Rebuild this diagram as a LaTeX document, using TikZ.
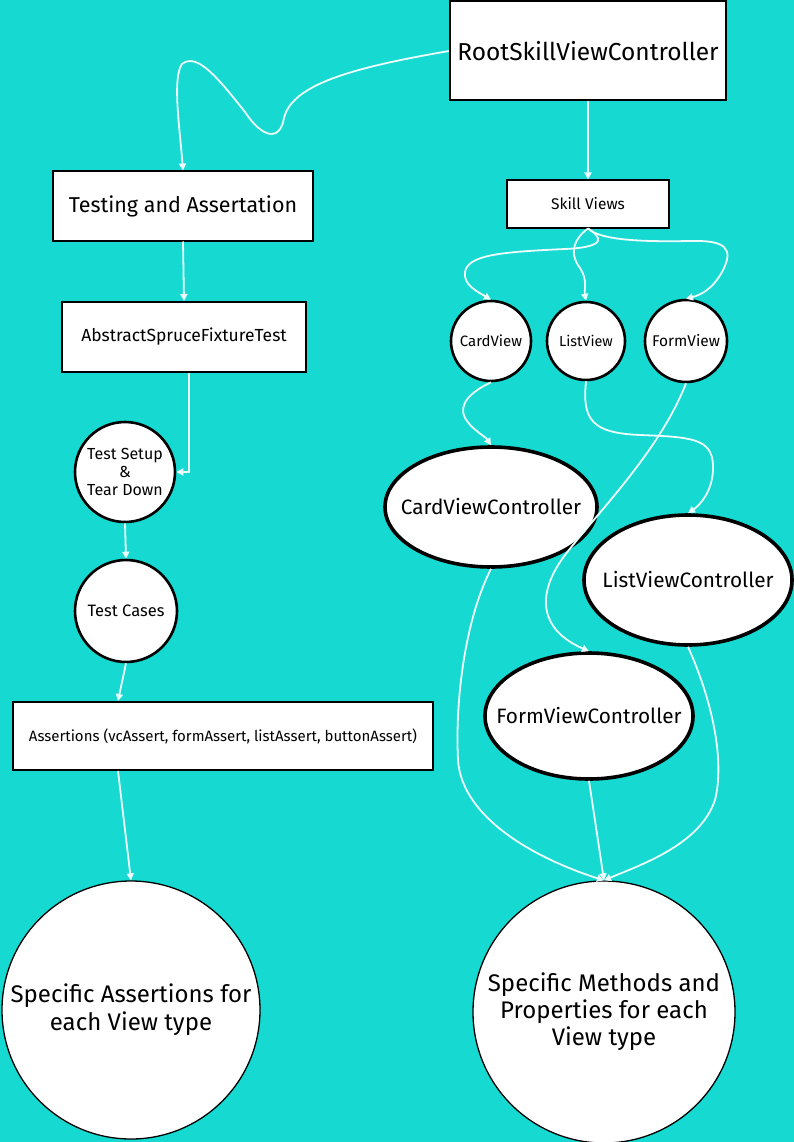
\documentclass[tikz,border=0pt]{standalone}
\usepackage{fontspec}
\setmainfont{Fira Sans}
\usetikzlibrary{shapes.geometric,arrows.meta}
\definecolor{bg}{RGB}{22,217,209}
\definecolor{wirec}{RGB}{236,255,255}
\begin{document}
\begin{tikzpicture}[x=1pt,y=-1pt,
  box/.style={draw=black,line width=2pt,fill=white,rectangle,inner sep=0pt},
  ball/.style={draw=black,line width=2.6pt,fill=white,circle,inner sep=0pt},
  oval/.style={draw=black,line width=3.6pt,fill=white,ellipse,inner sep=0pt},
  bigball/.style={draw=black,line width=1.3pt,fill=white,circle,inner sep=0pt},
  lbl/.style={align=center,inner sep=0pt},
  wire/.style={draw=wirec,line width=1.8pt,-{Triangle[length=7pt,width=7pt]}}
]
\path[fill=bg] (0,0) rectangle (794,1142);
\useasboundingbox (0,0) rectangle (794,1142);

% rectangles
\node[box,minimum width=276pt,minimum height=99pt] (root) at (588,51) {\fontsize{24.5}{29}\selectfont RootSkillViewController};
\node[box,minimum width=260pt,minimum height=69pt] (test) at (183,206) {\fontsize{21.5}{25}\selectfont Testing and Assertation};
\node[box,minimum width=244pt,minimum height=70pt] (abs) at (184,337) {\fontsize{17.5}{21}\selectfont AbstractSpruceFixtureTest};
\node[box,minimum width=162pt,minimum height=47pt] (skill) at (588,204) {\fontsize{15.5}{18}\selectfont Skill Views};
\node[box,minimum width=420pt,minimum height=68pt] (asrt) at (223,736) {\fontsize{15}{18}\selectfont Assertions (vcAssert, formAssert, listAssert, buttonAssert)};

% small circles
\node[ball,minimum size=80pt,label={[lbl,font=\fontsize{15}{18}\selectfont]center:CardView}] (card) at (491,341) {};
\node[ball,minimum size=78pt,label={[lbl,font=\fontsize{14.5}{18}\selectfont]center:ListView}] (list) at (586,341) {};
\node[ball,minimum size=82pt,label={[lbl,font=\fontsize{15.5}{18}\selectfont]center:FormView}] (form) at (686,341) {};
\node[ball,minimum size=100pt,label={[lbl,font=\fontsize{16}{18}\selectfont]center:Test Setup\\\&\\Tear Down}] (setup) at (125,472) {};
\node[ball,minimum size=102pt,label={[lbl,font=\fontsize{16.5}{18}\selectfont]center:Test Cases}] (cases) at (126,611) {};

% controller ellipses
\node[oval,minimum width=212pt,minimum height=120pt,label={[lbl,font=\fontsize{20.8}{24}\selectfont]center:CardViewController}] (cvc) at (491,507) {};
\node[oval,minimum width=208pt,minimum height=130pt,label={[lbl,font=\fontsize{20.8}{24}\selectfont]center:ListViewController}] (lvc) at (688,580) {};
\node[oval,minimum width=208pt,minimum height=126pt,label={[lbl,font=\fontsize{20.8}{24}\selectfont]center:FormViewController}] (fvc) at (589,716) {};

% big circles
\node[bigball,minimum size=258pt,label={[lbl,font=\fontsize{24}{28}\selectfont]center:Specific Assertions for\\each View type}] (sa) at (131,1010) {};
\node[bigball,minimum size=262pt,label={[lbl,font=\fontsize{24}{27}\selectfont]center:Specific Methods and\\Properties for each\\View type}] (sm) at (604,1012) {};

% connectors
\draw[wire] (root.west) .. controls (350,68) and (292,85) .. (284,118) .. controls (280,142) and (262,138) .. (245,112) .. controls (218,78) and (197,52) .. (182,64) .. controls (172,78) and (180,130) .. (test.north);
\draw[wire] (root.south) -- (skill.north);
\draw[wire] (test.south) -- (abs.north);
\draw[wire] ([xshift=5pt]abs.south) |- (setup.east);
\draw[wire] (setup.south) -- (cases.north);
\draw[wire] (cases.south) -- ([xshift=-105pt]asrt.north);
\draw[wire] ([xshift=-105pt]asrt.south) -- (sa.north);

\draw[wire] (skill.south) .. controls (600,236) and (610,247) .. (565,249) .. controls (500,252) and (468,255) .. (465,272) .. controls (463,285) and (478,292) .. (card.north);
\draw[wire] (skill.south) .. controls (575,238) and (568,252) .. (580,268) .. controls (588,280) and (584,290) .. (list.north);
\draw[wire] (skill.south) .. controls (600,240) and (640,242) .. (690,241) .. controls (725,240) and (735,248) .. (722,272) .. controls (712,290) and (700,295) .. (form.north);

\draw[wire] (card.south) .. controls (470,392) and (458,405) .. (465,418) .. controls (472,430) and (485,436) .. (cvc.north);
\draw[wire] (list.south) .. controls (582,420) and (592,433) .. (640,435) .. controls (690,437) and (712,438) .. (713,465) .. controls (714,490) and (700,505) .. (lvc.north);
\draw[wire] (form.south) .. controls (660,450) and (600,510) .. (565,555) .. controls (535,595) and (540,630) .. (fvc.north);

\draw[wire] (cvc.south) .. controls (465,620) and (455,700) .. (458,760) .. controls (462,820) and (540,860) .. (sm.north);
\draw[wire] (fvc.south) -- (sm.north);
\draw[wire] (lvc.south) .. controls (712,700) and (725,760) .. (715,800) .. controls (700,845) and (640,865) .. (sm.north);
\end{tikzpicture}
\end{document}
